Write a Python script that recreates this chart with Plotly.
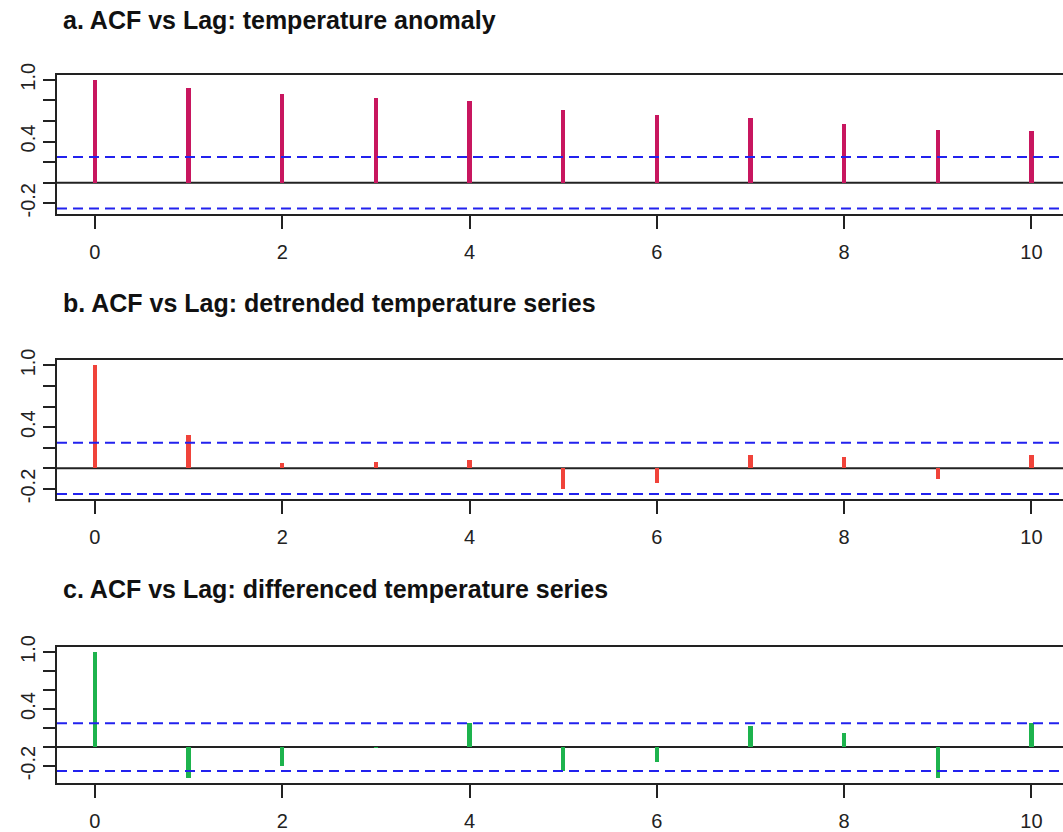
import plotly.graph_objects as go

# ---- data ----
lags = [0, 1, 2, 3, 4, 5, 6, 7, 8, 9, 10]
acf_anomaly = [1.0, 0.922, 0.868, 0.828, 0.794, 0.713, 0.666, 0.632, 0.578, 0.520, 0.503]
acf_detrended = [1.0, 0.324, 0.050, 0.057, 0.074, -0.207, -0.144, 0.127, 0.104, -0.110, 0.124]
acf_differenced = [1.0, -0.329, -0.198, -0.005, 0.255, -0.248, -0.159, 0.219, 0.152, -0.329, 0.255]
ci_bound = 0.25
titles = [
    "a. ACF vs Lag: temperature anomaly",
    "b. ACF vs Lag: detrended temperature series",
    "c. ACF vs Lag: differenced temperature series",
]
colors = ["#C8165F", "#F0433A", "#1DB34D"]
x_ticks = [0, 2, 4, 6, 8, 10]
y_ticks = [-0.2, 0.0, 0.2, 0.4, 0.6, 0.8, 1.0]
y_ticktext = ["-0.2", "", "", "0.4", "", "", "1.0"]

W, H = 1063, 832
plot_left = 57
panel_px = [(64, 206), (356, 498), (649, 788.5)]  # plot-area top/bottom in px
title_px = [8, 297, 590]
x_range = [-0.405, 10.337]

series = [acf_anomaly, acf_detrended, acf_differenced]

fig = go.Figure()
shapes = []
annotations = []
font_family = "Liberation Sans, Arial, sans-serif"

for i, (vals, col) in enumerate(zip(series, colors)):
    n = i + 1
    xa = "x" if n == 1 else f"x{n}"
    ya = "y" if n == 1 else f"y{n}"
    fig.add_trace(go.Bar(x=lags, y=vals, width=0.045, marker=dict(color=col, line=dict(width=0)),
                         xaxis=xa, yaxis=ya, showlegend=False, hoverinfo="x+y"))
    lo = min(min(vals), -ci_bound)
    hi = max(max(vals), ci_bound)
    ext = 0.04 * (hi - lo)
    top, bot = panel_px[i]
    xkey = "xaxis" if n == 1 else f"xaxis{n}"
    ykey = "yaxis" if n == 1 else f"yaxis{n}"
    fig.update_layout(**{
        xkey: dict(domain=[plot_left / W, 1.0], range=x_range, anchor=ya,
                   tickvals=x_ticks, ticks="outside", ticklen=13, tickwidth=2, tickcolor="#222",
                   showline=True, linecolor="#222", linewidth=2, mirror=True,
                   showgrid=False, zeroline=False, ticklabelstandoff=6,
                   tickfont=dict(family=font_family, size=20, color="#222")),
        ykey: dict(domain=[1 - bot / H, 1 - top / H], range=[lo - ext, hi + ext], anchor=xa,
                   tickvals=y_ticks, ticktext=y_ticktext, tickangle=-90,
                   ticks="outside", ticklen=12, tickwidth=2, tickcolor="#222",
                   showline=True, linecolor="#222", linewidth=2, mirror=False,
                   showgrid=False, zeroline=False,
                   tickfont=dict(family=font_family, size=20, color="#222")),
    })
    xref_dom = f"{xa} domain"
    shapes.append(dict(type="line", xref=xref_dom, yref=ya, x0=0, x1=1, y0=0, y1=0,
                       line=dict(color="#222", width=2), layer="below"))
    for b in (ci_bound, -ci_bound):
        shapes.append(dict(type="line", xref=xref_dom, yref=ya, x0=0, x1=1, y0=b, y1=b,
                           line=dict(color="#2222EE", width=2, dash="10px,6px"), layer="above"))
    annotations.append(dict(text=f"<b>{titles[i]}</b>", xref="paper", yref="paper",
                            x=61 / W, y=1 - title_px[i] / H, xanchor="left", yanchor="middle",
                            showarrow=False, font=dict(family=font_family, size=25, color="#111")))

fig.update_layout(width=W, height=H, margin=dict(l=0, r=0, t=0, b=0),
                  paper_bgcolor="white", plot_bgcolor="white",
                  shapes=shapes, annotations=annotations, bargap=0)
fig.write_html("out.html", config={"displayModeBar": False},
               post_script="document.body.style.margin='0';document.body.style.overflow='hidden';")
